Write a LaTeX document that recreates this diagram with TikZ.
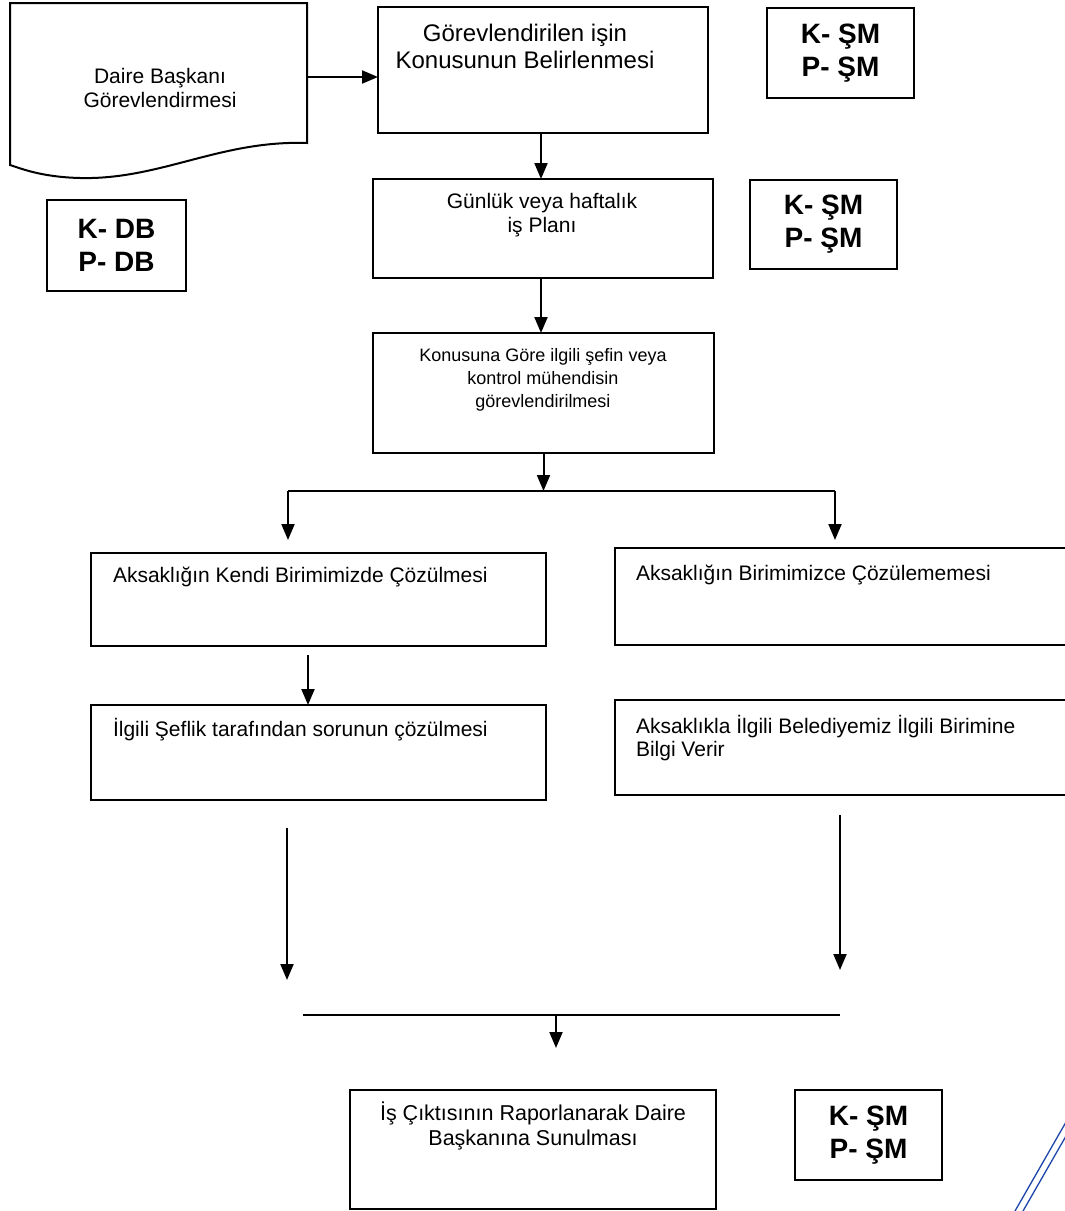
\documentclass[tikz,border=0pt]{standalone}
\usepackage{fontspec}
\setmainfont{Liberation Sans}
\usetikzlibrary{arrows.meta}
\begin{document}
\begin{tikzpicture}[x=1pt,y=-1pt,
  every node/.style={inner sep=0pt, outer sep=0pt},
  box/.style={draw, line width=2pt, rectangle},
  kbox/.style={draw, line width=2pt, rectangle, align=center, font=\bfseries\fontsize{28}{33}\selectfont},
  txt/.style={align=center},
  ltxt/.style={align=left},
  arr/.style={line width=2pt, -{Triangle[length=16pt,width=13pt]}},
  ln/.style={line width=2pt},
  sig/.style={line width=1.3pt, draw={rgb,255:red,30;green,70;blue,170}}]
\useasboundingbox[fill=white] (0,0) rectangle (1065,1211);

% document shape
\draw[ln] (10,3) -- (307,3) -- (307,143)
  .. controls (220,140) and (160,180) .. (80,178)
  .. controls (40,177) and (20,168) .. (10,165) -- cycle;
\node[txt, font=\fontsize{21}{24}\selectfont] (doc) at (160,88) {Daire Başkanı\\Görevlendirmesi};
\coordinate (docR) at (307,77);

\node[kbox, minimum width=139pt, minimum height=91pt] (kdb) at (116.5,245.5) {K- DB\\P- DB};

% main boxes
\node[box, minimum width=330pt, minimum height=126pt] (b1) at (543,70) {};
\node[txt, font=\fontsize{24}{27}\selectfont] (t1) at (525,46.5) {Görevlendirilen işin\\Konusunun Belirlenmesi};
\node[kbox, minimum width=147pt, minimum height=90pt] (k1) at (840.5,53) {K- ŞM\\P- ŞM};

\node[box, minimum width=340pt, minimum height=99pt] (b2) at (543,228.5) {};
\node[txt, font=\fontsize{21}{24}\selectfont] (t2) at (542,215) {Günlük veya haftalık\\iş Planı};
\node[kbox, minimum width=147pt, minimum height=89pt] (k2) at (823.5,224.5) {K- ŞM\\P- ŞM};

\node[box, minimum width=341pt, minimum height=120pt] (b3) at (543.5,393) {};
\node[txt, font=\fontsize{18}{23}\selectfont] (t3) at (543,380) {Konusuna Göre ilgili şefin veya\\kontrol mühendisin\\görevlendirilmesi};

% split
\coordinate (sM) at (543.5,491);
\coordinate (sL) at (288,491);
\coordinate (sR) at (835,491);
\draw[arr] (b3.south) -- (sM);
\draw[ln] (sL) -- (sR);

\node[box, minimum width=455pt, minimum height=93pt] (b4) at (318.5,599.5) {};
\node[ltxt, anchor=west, font=\fontsize{21}{24}\selectfont] (t4) at (113,577) {Aksaklığın Kendi Birimimizde Çözülmesi};
\node[box, minimum width=455pt, minimum height=97pt] (b5) at (842.5,596.5) {};
\node[ltxt, anchor=west, font=\fontsize{21}{24}\selectfont] (t5) at (636,575) {Aksaklığın Birimimizce Çözülememesi};

\node[box, minimum width=455pt, minimum height=95pt] (b6) at (318.5,752.5) {};
\node[ltxt, anchor=west, font=\fontsize{21}{24}\selectfont] (t6) at (113,730) {İlgili Şeflik tarafından sorunun çözülmesi};
\node[box, minimum width=455pt, minimum height=95pt] (b7) at (842.5,747.5) {};
\node[ltxt, anchor=north west, font=\fontsize{21}{23}\selectfont] (t7) at (636,715) {Aksaklıkla İlgili Belediyemiz İlgili Birimine\\Bilgi Verir};

% join
\coordinate (jLs) at (287,828);
\coordinate (jLe) at (287,980);
\coordinate (jRs) at (840,815);
\coordinate (jRe) at (840,970);
\coordinate (jA) at (303,1015);
\coordinate (jB) at (840,1015);
\coordinate (jM) at (556,1015);
\coordinate (jE) at (556,1048);

\node[box, minimum width=366pt, minimum height=119pt] (b8) at (533,1149.5) {};
\node[txt, font=\fontsize{21.5}{25}\selectfont] (t8) at (533,1125.5) {İş Çıktısının Raporlanarak Daire\\Başkanına Sunulması};
\node[kbox, minimum width=147pt, minimum height=90pt] (k3) at (868.5,1135) {K- ŞM\\P- ŞM};

% connectors
\draw[arr] (docR) -- (b1.west |- docR);
\draw[arr] ([xshift=-2pt]b1.south) -- ([xshift=-2pt]b2.north);
\draw[arr] ([xshift=-2pt]b2.south) -- ([xshift=-2.5pt]b3.north);
\draw[arr] (sL) -- ([yshift=13pt]sL |- b4.north);
\draw[arr] (sR) -- ([yshift=8pt]sR |- b5.north);
\draw[arr, shorten <=9pt] ([xshift=-10.5pt]b4.south) -- ([xshift=-10.5pt]b6.north);
\draw[arr] (jLs) -- (jLe);
\draw[arr] (jRs) -- (jRe);
\draw[ln] (jA) -- (jB);
\draw[arr] (jM) -- (jE);

% blue pen strokes
\draw[sig] (1015,1211) -- (1066,1122);
\draw[sig] (1023,1211) -- (1066,1136);
\end{tikzpicture}
\end{document}
